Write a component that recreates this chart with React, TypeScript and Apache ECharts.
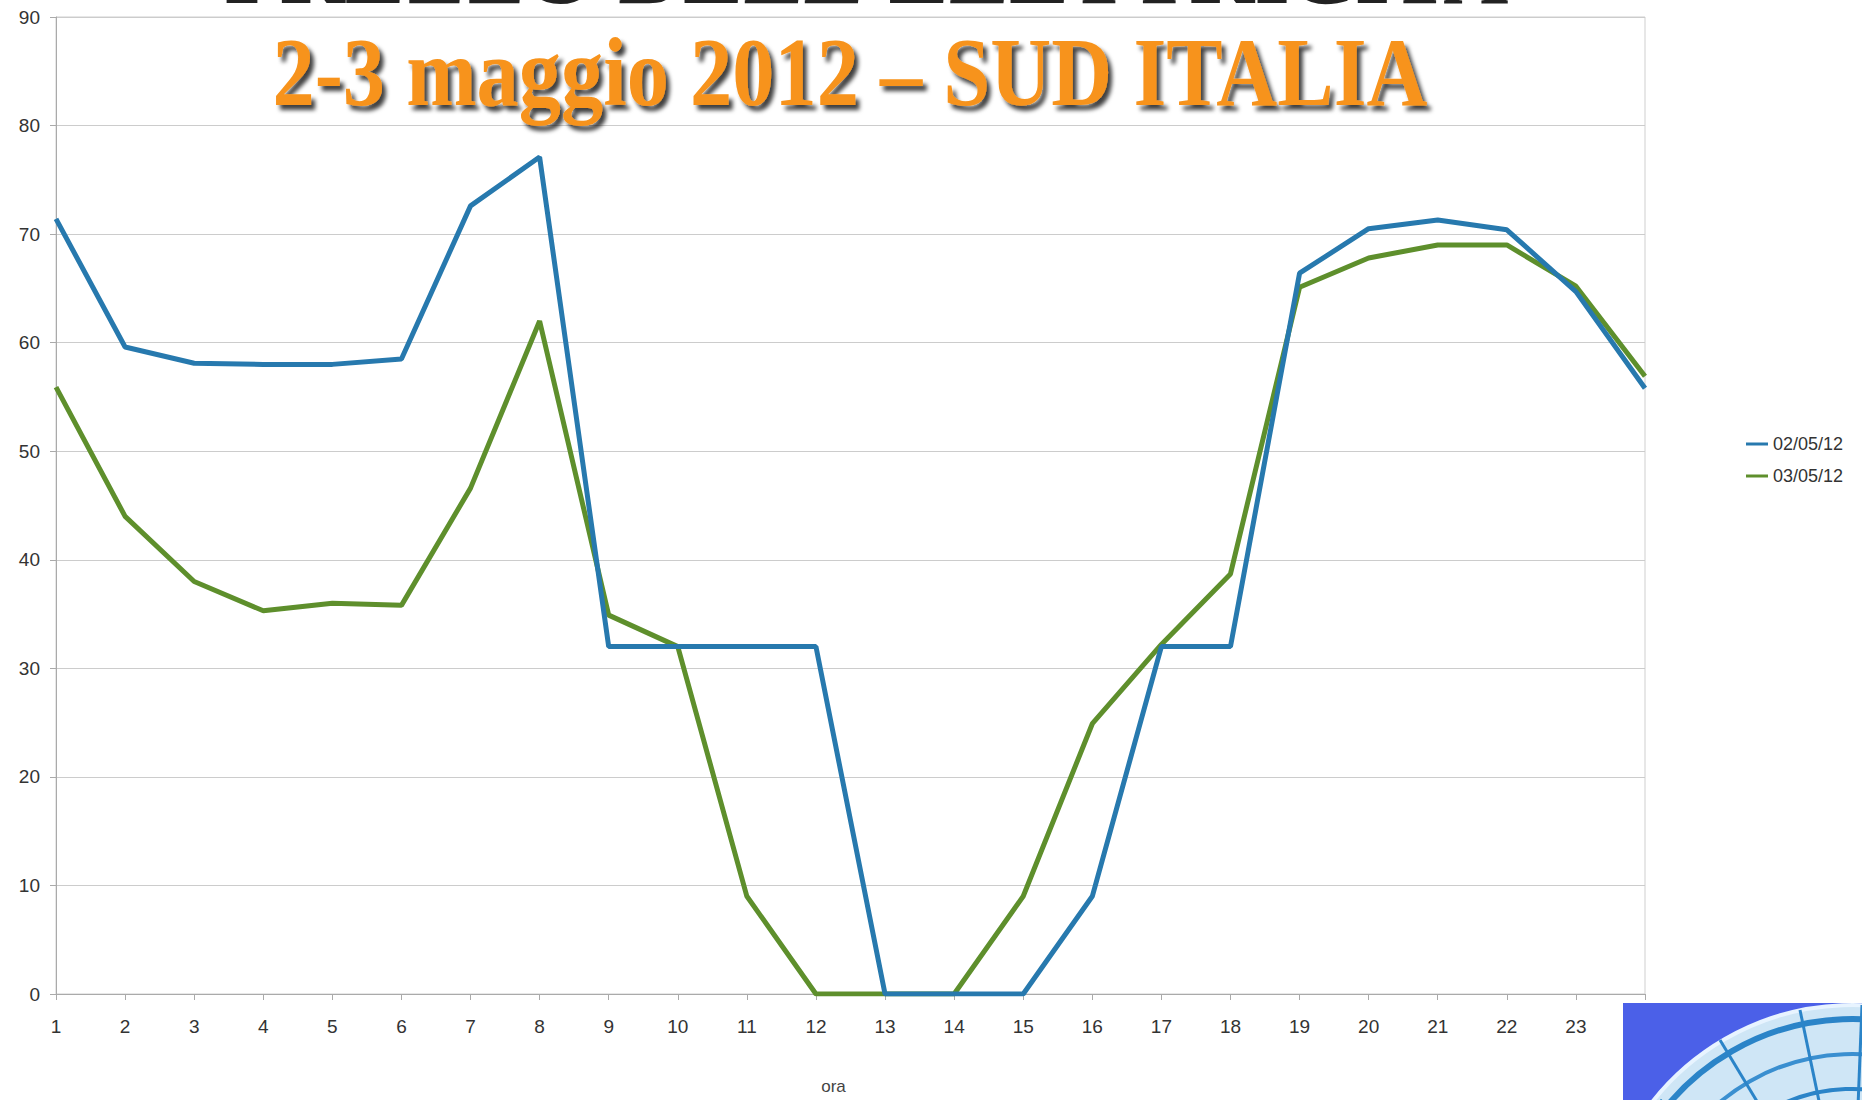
import React, { useEffect, useRef } from "react";
import * as echarts from "echarts";

const hours = ["1","2","3","4","5","6","7","8","9","10","11","12","13","14","15","16","17","18","19","20","21","22","23","24"];
const seriesNames = ["02/05/12", "03/05/12"];
const price0205 = [71.4, 59.6, 58.1, 58, 58, 58.5, 72.6, 77.1, 32, 32, 32, 32, 0, 0, 0, 9, 32, 32, 66.4, 70.5, 71.3, 70.4, 64.7, 55.8];
const price0305 = [55.9, 44, 38, 35.3, 36, 35.8, 46.6, 62, 34.9, 32, 9, 0, 0, 0, 9, 24.9, 32.2, 38.7, 65.1, 67.8, 69, 69, 65.2, 56.9];
const titleText = "2-3 maggio 2012 – SUD ITALIA";
const topTitleText = "PREZZO DELL'ELETTRICITA'";
const axisName = "ora";

export default function App() {
  const ref = useRef<HTMLDivElement>(null);
  useEffect(() => {
    if (!ref.current) return;
    const chart = echarts.init(ref.current, null, { renderer: "svg" });
    const logoZ = 200;
    chart.setOption({
      animation: false,
      backgroundColor: "#ffffff",
      grid: { left: 56, right: 217, top: 17, bottom: 104, show: true, borderColor: "#cfcfcf", borderWidth: 1 },
      legend: {
        orient: "vertical",
        left: 1741,
        top: 430,
        itemWidth: 22,
        itemHeight: 3,
        itemGap: 14,
        icon: "rect",
        textStyle: { fontFamily: "Liberation Sans", fontSize: 18, color: "#333" },
        data: seriesNames,
      },
      xAxis: {
        type: "category",
        data: hours,
        boundaryGap: false,
        name: axisName,
        nameLocation: "middle",
        nameGap: 84,
        nameTextStyle: { fontFamily: "Liberation Sans", fontSize: 17, color: "#444", padding: [0, 34, 0, 0] },
        axisLine: { lineStyle: { color: "#aaa", width: 1 } },
        axisTick: { show: true, length: 6, lineStyle: { color: "#aaa" } },
        axisLabel: { fontFamily: "Liberation Sans", fontSize: 19, color: "#333", margin: 23, interval: 0 },
        splitLine: { show: false },
      },
      yAxis: {
        type: "value",
        min: 0,
        max: 90,
        interval: 10,
        axisLine: { show: true, lineStyle: { color: "#aaa", width: 1 } },
        axisTick: { show: true, length: 6, lineStyle: { color: "#aaa" } },
        axisLabel: { fontFamily: "Liberation Sans", fontSize: 19, color: "#333", margin: 16 },
        splitLine: { lineStyle: { color: "#cccccc", width: 1 } },
      },
      series: [
        {
          name: seriesNames[0],
          type: "line",
          data: price0205,
          symbol: "none",
          lineStyle: { color: "#2779ae", width: 5 },
          itemStyle: { color: "#2779ae" },
          z: 3,
        },
        {
          name: seriesNames[1],
          type: "line",
          data: price0305,
          symbol: "none",
          lineStyle: { color: "#5e8f2c", width: 5 },
          itemStyle: { color: "#5e8f2c" },
          z: 2,
        },
      ],
      graphic: [
        {
          type: "text",
          x: 879,
          y: -66,
          z: 50,
          scaleX: 1.1,
          style: {
            text: topTitleText,
            fontFamily: "Liberation Serif",
            fontWeight: "bold",
            fontSize: 82,
            fill: "#222",
            align: "center",
            verticalAlign: "top",
          },
        },
        {
          type: "text",
          x: 850,
          y: 72,
          z: 50,
          scaleX: 1.03,
          scaleY: 1.2,
          style: {
            text: titleText,
            fontFamily: "Liberation Serif",
            fontWeight: "bold",
            fontSize: 82,
            fill: "#f7931c",
            align: "center",
            verticalAlign: "middle",
            textShadowColor: "rgba(0,0,0,0.75)",
            textShadowOffsetX: 4,
            textShadowOffsetY: 5,
            textShadowBlur: 4,
          },
        },
        { type: "rect", z: logoZ, shape: { x: 1623, y: 1003, width: 239, height: 97 }, style: { fill: "#4b60e8" } },
        { type: "circle", z: logoZ, shape: { cx: 1852, cy: 1259, r: 254 }, style: { fill: "#cfe6f6", stroke: "#e8f4ff", lineWidth: 4 } },
        { type: "circle", z: logoZ, shape: { cx: 1852, cy: 1259, r: 240 }, style: { fill: "none", stroke: "#2b84c8", lineWidth: 6 } },
        { type: "circle", z: logoZ, shape: { cx: 1852, cy: 1259, r: 205 }, style: { fill: "none", stroke: "#3a8fd0", lineWidth: 4 } },
        { type: "circle", z: logoZ, shape: { cx: 1852, cy: 1259, r: 170 }, style: { fill: "none", stroke: "#2b84c8", lineWidth: 4 } },
        { type: "line", z: logoZ, shape: { x1: 1852, y1: 1259, x2: 1660, y2: 1100 }, style: { stroke: "#2b84c8", lineWidth: 3 } },
        { type: "line", z: logoZ, shape: { x1: 1852, y1: 1259, x2: 1720, y2: 1040 }, style: { stroke: "#2b84c8", lineWidth: 3 } },
        { type: "line", z: logoZ, shape: { x1: 1852, y1: 1259, x2: 1800, y2: 1010 }, style: { stroke: "#2b84c8", lineWidth: 3 } },
        { type: "line", z: logoZ, shape: { x1: 1852, y1: 1259, x2: 1862, y2: 1005 }, style: { stroke: "#2b84c8", lineWidth: 3 } },
      ],
    });
    return () => chart.dispose();
  }, []);
  return <div ref={ref} style={{ position: "fixed", left: 0, top: 0, width: 1862, height: 1100 }} />;
}
